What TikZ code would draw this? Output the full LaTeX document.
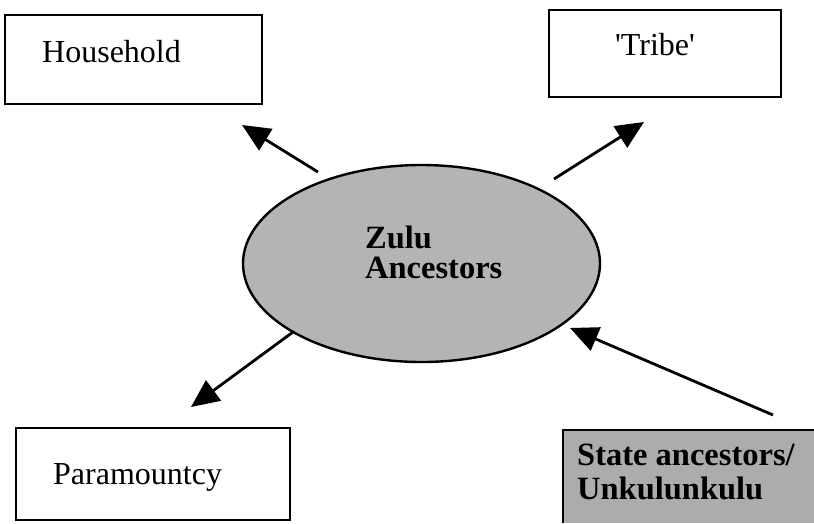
\documentclass[tikz,border=0pt]{standalone}
\usepackage{fontspec}
\setmainfont{Liberation Serif}
\usetikzlibrary{arrows.meta}
\definecolor{shade}{RGB}{180,180,180}
\definecolor{boxshade}{RGB}{172,172,172}
\tikzset{
  box/.style={draw=black, line width=2.4pt, fill=white, inner sep=0pt},
  greyedge/.style={draw=black, line width=2.4pt},
  label text/.style={font=\fontsize{32}{32}\selectfont, inner sep=0pt, anchor=west},
  bold text/.style={font=\fontsize{32.5}{32.5}\selectfont\bfseries, inner sep=0pt, anchor=west},
  link/.style={line width=2.8pt, -{Triangle[length=28pt,width=25pt]}}
}
\begin{document}
\begin{tikzpicture}[x=1pt, y=-1pt]
  \useasboundingbox (0,0) rectangle (814,523);

  % outer boxes
  \node[box, minimum width=257pt, minimum height=89pt] (household) at (133.5,59.5) {};
  \node[label text] (householdtext) at (42,52) {Household};

  \node[box, minimum width=232pt, minimum height=87pt] (tribe) at (665,53.5) {};
  \node[label text, anchor=center] (tribetext) at (655,45) {\textquotesingle Tribe\textquotesingle};

  \node[box, minimum width=274pt, minimum height=92pt] (paramountcy) at (153,474) {};
  \node[label text] (paramountcytext) at (53,477) {Paramountcy};

  % shaded source box, running off the right and bottom edges
  \fill[boxshade] (563,430) rectangle (814,523);
  \draw[greyedge] (563,523) -- (563,430) -- (814,430);
  \node[bold text] (statetext) at (577,455) {State ancestors/};
  \node[bold text] (unkulunkulutext) at (577,488) {Unkulunkulu};

  % central ellipse
  \draw[line width=2.4pt, fill=shade] (421.5,263.5) ellipse [x radius=178.5, y radius=98.5];
  \node[bold text] (zulu) at (365,237) {Zulu};
  \node[bold text] (ancestors) at (365,268) {Ancestors};

  % arrow end points
  \coordinate (hhtail) at (318,172);
  \coordinate (hhtip) at (242,125);
  \coordinate (trtail) at (554,179);
  \coordinate (trtip) at (644,122);
  \coordinate (patail) at (293,332);
  \coordinate (patip) at (191,407);
  \coordinate (sttail) at (773,415);
  \coordinate (sttip) at (570,328);

  \draw[link] (hhtail) -- (hhtip);
  \draw[link] (trtail) -- (trtip);
  \draw[link] (patail) -- (patip);
  \draw[link] (sttail) -- (sttip);
\end{tikzpicture}
\end{document}
